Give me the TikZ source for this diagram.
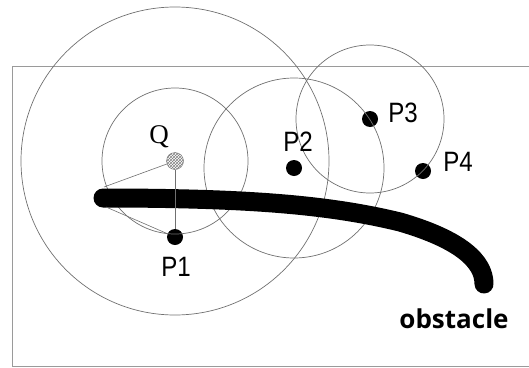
\documentclass[tikz,border=0pt]{standalone}
\usepackage{fontspec}
\setmainfont{Liberation Serif}
\newfontfamily\labelfont{Liberation Sans}[FakeStretch=0.86]
\newfontfamily\obsfont{Open Sans}
\usetikzlibrary{patterns}
\definecolor{ringgray}{HTML}{707070}
\definecolor{framegray}{HTML}{9A9A9A}

\tikzset{
  ring/.style={draw=ringgray, line width=0.7pt},
  link/.style={draw=ringgray, line width=0.6pt},
  pnt/.style={circle, fill=black, minimum size=16pt, inner sep=0pt},
  plabel/.style={font=\labelfont\fontsize{28pt}{28pt}\selectfont, inner sep=0pt},
}

\begin{document}
\begin{tikzpicture}[x=1pt, y=-1pt]
\useasboundingbox (0,0) rectangle (529,367);
% frame, open to the right
\draw[framegray, line width=0.8pt] (535,66) -- (12,66) -- (12,366) -- (535,366);

% points
\node[circle, draw=ringgray, pattern=crosshatch, pattern color=gray, minimum size=17pt, inner sep=0pt] (Q) at (175,161) {};
\node[pnt] (P1) at (175,237) {};
\node[pnt] (P2) at (294,168) {};
\node[pnt] (P3) at (370,119) {};
\node[pnt] (P4) at (423,171) {};

% search circles
\draw[ring] (Q) circle[radius=73];
\draw[ring] (Q) circle[radius=154];
\draw[ring] (P2) circle[radius=90];
\draw[ring] (P3) circle[radius=74];

% obstacle
\coordinate (tipA) at (104,187);
\coordinate (tipB) at (106,207);
\draw[black, line width=19pt, line cap=round] (103,198) .. controls (250,198) and (330,205) .. (400,222)
  .. controls (462,240) and (484,262) .. (484,284);

\draw[link] (Q) -- (tipA);
\draw[link] (Q) -- (P1);
\draw[link] (tipB) -- (P1);

% labels
\node[font=\fontsize{27pt}{27pt}\selectfont, inner sep=0pt] (Qlabel) at (159,137) {Q};
\node[plabel] (P1label) at (176,267) {P1};
\node[plabel] (P2label) at (298,142) {P2};
\node[plabel] (P3label) at (403,113) {P3};
\node[plabel] (P4label) at (458,162) {P4};
\node[font=\obsfont\bfseries\fontsize{26pt}{26pt}\selectfont, inner sep=0pt] (obs) at (454,319) {obstacle};
\end{tikzpicture}
\end{document}
